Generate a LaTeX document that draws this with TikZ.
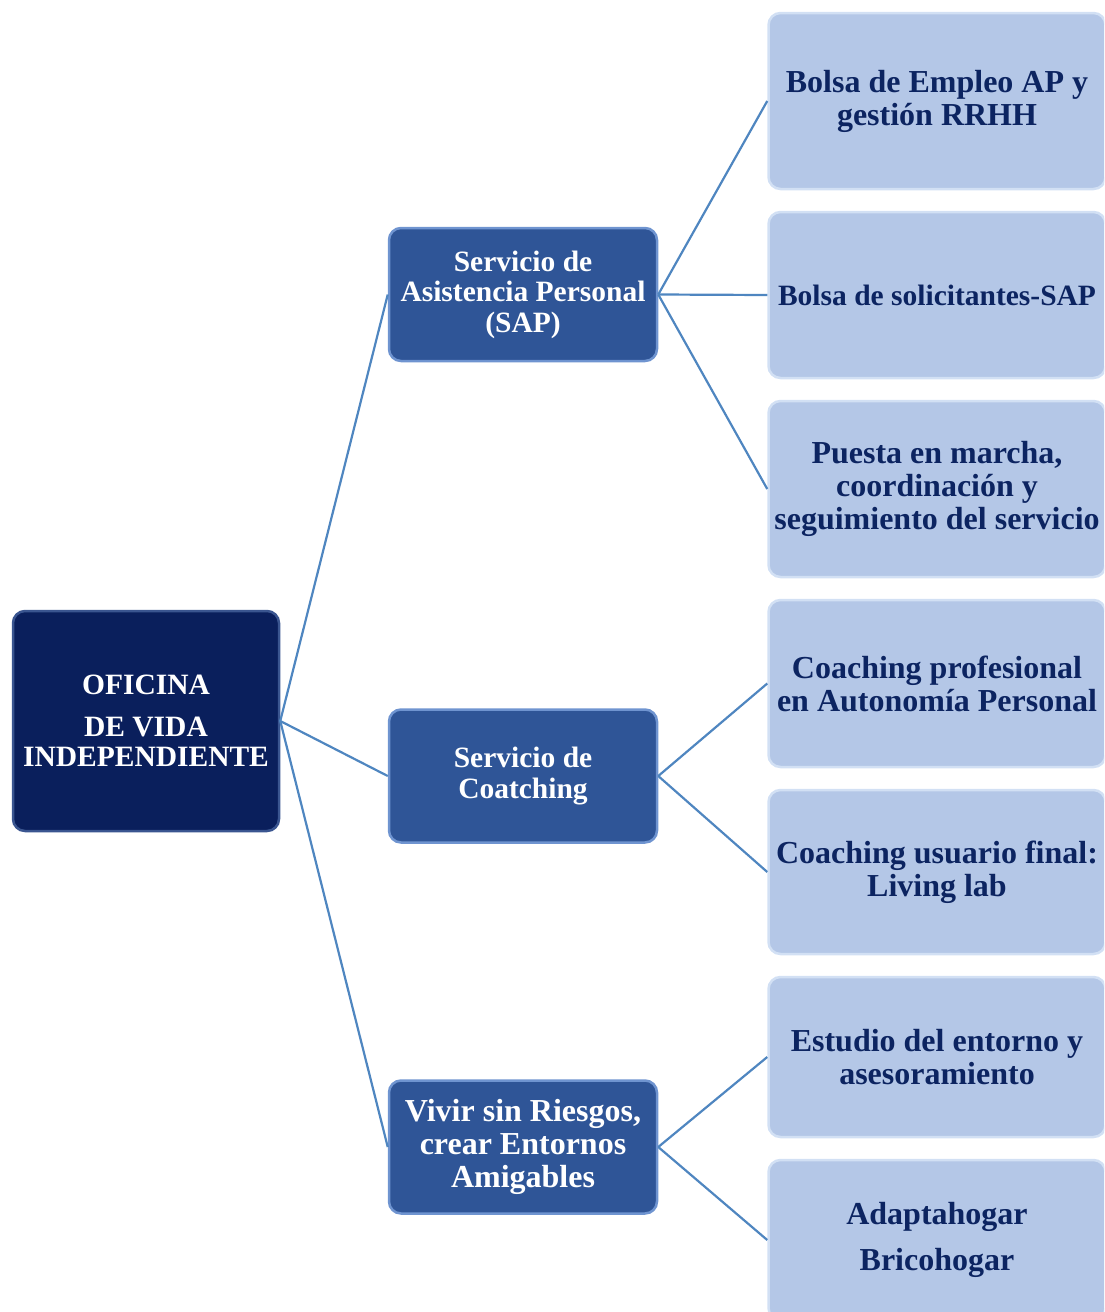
\documentclass[tikz,border=0pt]{standalone}
\usepackage{fontspec}
\setmainfont{Liberation Serif}
\definecolor{rootc}{HTML}{0A1F5C}
\definecolor{rootedge}{HTML}{3A5590}
\definecolor{midc}{HTML}{2F5597}
\definecolor{midedge}{HTML}{6F94D0}
\definecolor{leafc}{HTML}{B4C7E7}
\definecolor{leafedge}{HTML}{D2E0F4}
\definecolor{leaftext}{HTML}{0C2461}
\definecolor{linkc}{HTML}{4F86C0}
\tikzset{
  box/.style={rectangle, rounded corners=12pt, line width=2.5pt, align=center, inner sep=0pt, font=\bfseries},
  rootbox/.style={box, fill=rootc, draw=rootedge, text=white, minimum width=266pt, minimum height=220pt, font=\fontsize{29.5}{30}\selectfont\bfseries},
  midbox/.style={box, fill=midc, draw=midedge, text=white, minimum width=268pt, minimum height=133pt, font=\fontsize{29.5}{30.5}\selectfont\bfseries},
  leafbox/.style={box, fill=leafc, draw=leafedge, text=leaftext, minimum width=337pt, font=\fontsize{32}{33}\selectfont\bfseries},
  link/.style={draw=linkc, line width=2.2pt}
}
\begin{document}
\begin{tikzpicture}[x=1pt,y=-1pt]
\useasboundingbox (0,0) rectangle (1104,1312);
\begin{scope}
\clip (0,0) rectangle (1104,1312);
% nodes
\node[rootbox] (root) at (146,721) {OFICINA\\[12pt]DE VIDA\\INDEPENDIENTE};
\node[midbox] (sap) at (523,294.5) {Servicio de\\Asistencia Personal\\(SAP)};
\node[midbox] (coach) at (523,776) {Servicio de\\Coatching};
\node[midbox, font=\fontsize{32}{33}\selectfont\bfseries] (vivir) at (523,1147) {Vivir sin Riesgos,\\crear Entornos\\Amigables};
\node[leafbox, minimum height=176pt] (l1) at (937,101) {Bolsa de Empleo AP y\\gestión RRHH};
\node[leafbox, minimum height=166pt, font=\fontsize{29.5}{33}\selectfont\bfseries] (l2) at (937,295) {Bolsa de solicitantes-SAP};
\node[leafbox, minimum height=176pt] (l3) at (937,489) {Puesta en marcha,\\coordinación y\\seguimiento del servicio};
\node[leafbox, minimum height=167pt] (l4) at (937,683.5) {Coaching profesional\\en Autonomía Personal};
\node[leafbox, minimum height=164pt] (l5) at (937,872) {Coaching usuario final:\\Living lab};
\node[leafbox, minimum height=160pt] (l6) at (937,1057) {Estudio del entorno y\\asesoramiento};
\node[leafbox, minimum height=160pt, font=\fontsize{32}{46}\selectfont\bfseries] (l7) at (937,1240) {Adaptahogar\\Bricohogar};
\end{scope}
% connectors
\draw[link] (root.east) -- (sap.west);
\draw[link] (root.east) -- (coach.west);
\draw[link] (root.east) -- (vivir.west);
\draw[link] (sap.east) -- (l1.west);
\draw[link] (sap.east) -- (l2.west);
\draw[link] (sap.east) -- (l3.west);
\draw[link] (coach.east) -- (l4.west);
\draw[link] (coach.east) -- (l5.west);
\draw[link] (vivir.east) -- (l6.west);
\draw[link] (vivir.east) -- (l7.west);
\end{tikzpicture}
\end{document}
